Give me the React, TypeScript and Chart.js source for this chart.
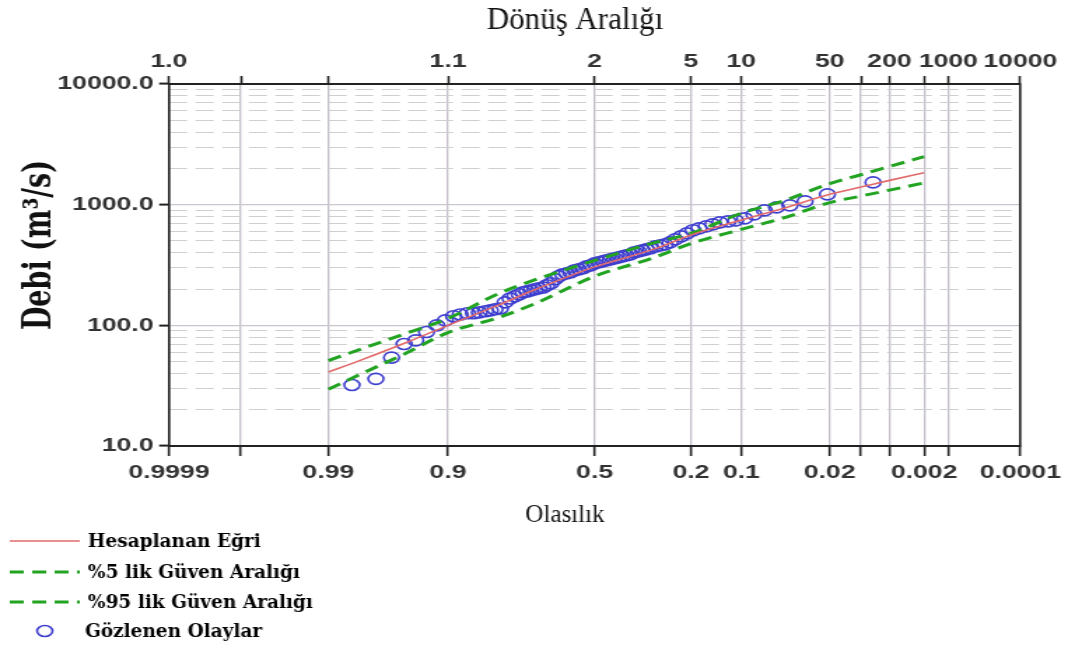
import React, { useEffect, useRef } from 'react';
import { Chart, registerables } from 'chart.js';

Chart.register(...registerables);

// ---- axis ticks ----
const probTicks = [0.9999, 0.999, 0.99, 0.9, 0.5, 0.2, 0.1, 0.02, 0.01, 0.005, 0.002, 0.001, 0.0001];
const probLabels = ['0.9999', '', '0.99', '0.9', '0.5', '0.2', '0.1', '0.02', '', '', '0.002', '', '0.0001'];
const returnLabels = ['1.0', '', '', '1.1', '2', '5', '10', '50', '', '200', '', '1000', '10000'];
const flowTicks = [10, 100, 1000, 10000];
const flowLabels = ['10.0', '100.0', '1000.0', '10000.0'];
const flowMinorTicks = [20, 30, 40, 50, 60, 70, 80, 90, 200, 300, 400, 500, 600, 700, 800, 900, 2000, 3000, 4000, 5000, 6000, 7000, 8000, 9000];

// ---- fitted curve and confidence limits ----
const curveProb = [0.99, 0.98, 0.95, 0.9, 0.8, 0.7, 0.5, 0.3, 0.2, 0.1, 0.05, 0.02, 0.01, 0.005, 0.002];
const fittedFlow = [41, 51, 72, 100, 147, 197, 305, 430, 560, 745, 930, 1220, 1400, 1590, 1840];
const upper5Flow = [51, 63, 86, 114, 183, 238, 345, 485, 578, 850, 1072, 1493, 1770, 2070, 2500];
const lower95Flow = [29.5, 39, 59, 87, 116, 151, 255, 366, 477, 624, 773, 1040, 1178, 1320, 1514];

// ---- observed events ----
const obsProb = [
  0.983, 0.972, 0.962, 0.952, 0.941, 0.929, 0.916, 0.904, 0.891, 0.880,
  0.867, 0.855, 0.843, 0.830, 0.819, 0.808, 0.795, 0.783, 0.770, 0.757,
  0.745, 0.734, 0.723, 0.711, 0.699, 0.687, 0.674, 0.662, 0.649, 0.636,
  0.623, 0.610, 0.596, 0.583, 0.569, 0.555, 0.541, 0.528, 0.514, 0.500,
  0.486, 0.472, 0.459, 0.445, 0.431, 0.417, 0.404, 0.391, 0.377, 0.364,
  0.351, 0.338, 0.326, 0.313, 0.298, 0.283, 0.269, 0.255, 0.241, 0.225,
  0.210, 0.195, 0.181, 0.165, 0.151, 0.137, 0.122, 0.109, 0.095, 0.082,
  0.069, 0.056, 0.044, 0.033, 0.021, 0.0075,
];
const obsFlow = [
  32, 36, 54, 70, 75, 88, 100, 110, 119, 123,
  126, 126, 128, 131, 133, 136, 138, 155, 167, 174,
  181, 188, 191, 195, 199, 203, 206, 215, 223, 241,
  255, 265, 270, 275, 286, 291, 297, 308, 314, 326,
  333, 339, 346, 352, 359, 366, 373, 380, 387, 403,
  410, 418, 426, 435, 451, 460, 469, 487, 516, 546,
  578, 613, 636, 661, 687, 713, 727, 741, 770, 831,
  897, 950, 987, 1065, 1217, 1530,
];

const legendLabels = ['Hesaplanan Eğri', '%5 lik Güven Aralığı', '%95 lik Güven Aralığı', 'Gözlenen Olaylar'];
const titleTop = 'Dönüş Aralığı';
const titleBottom = 'Olasılık';
const titleLeft = 'Debi (m³/s)';

// inverse standard normal CDF (Acklam)
function probit(p: number): number {
  const a = [-3.969683028665376e1, 2.209460984245205e2, -2.759285104469687e2, 1.38357751867269e2, -3.066479806614716e1, 2.506628277459239];
  const b = [-5.447609879822406e1, 1.615858368580409e2, -1.556989798598866e2, 6.680131188771972e1, -1.328068155288572e1];
  const c = [-7.784894002430293e-3, -3.223964580411365e-1, -2.400758277161838, -2.549732539343734, 4.374664141464968, 2.938163982698783];
  const d = [7.784695709041462e-3, 3.224671290700398e-1, 2.445134137142996, 3.754408661907416];
  const pl = 0.02425;
  if (p < pl) {
    const q = Math.sqrt(-2 * Math.log(p));
    return (((((c[0] * q + c[1]) * q + c[2]) * q + c[3]) * q + c[4]) * q + c[5]) / ((((d[0] * q + d[1]) * q + d[2]) * q + d[3]) * q + 1);
  }
  if (p <= 1 - pl) {
    const q = p - 0.5;
    const r = q * q;
    return ((((((a[0] * r + a[1]) * r + a[2]) * r + a[3]) * r + a[4]) * r + a[5]) * q) / (((((b[0] * r + b[1]) * r + b[2]) * r + b[3]) * r + b[4]) * r + 1);
  }
  const q = Math.sqrt(-2 * Math.log(1 - p));
  return -(((((c[0] * q + c[1]) * q + c[2]) * q + c[3]) * q + c[4]) * q + c[5]) / ((((d[0] * q + d[1]) * q + d[2]) * q + d[3]) * q + 1);
}
// exceedance probability -> normal-probability-paper coordinate
const xv = (p: number) => probit(1 - p);

const DISPLAY_W = 1068;
const CANVAS_W = 763; // drawn narrower, displayed stretched to 1068
const CANVAS_H = 645;
const SX = DISPLAY_W / CANVAS_W;

const RED = '#e26a6a';
const GREEN = '#22a322';
const BLUE = '#3f3fcf';
const VGRID = '#c4bcca';
const HGRID = '#cbc5cf';
const MINOR = '#cfcfcf';
const TICKFONT = { family: '"Liberation Sans", Arial, sans-serif', size: 19, weight: 'bold' as const };
const TICKCOLOR = '#333333';

// draw text at a display x position, with glyphs stretched horizontally by f on screen
function drawText(ctx: any, text: string, xDisplay: number, y: number, f: number) {
  ctx.save();
  ctx.scale(f / SX, 1);
  ctx.fillText(text, xDisplay / f, y);
  ctx.restore();
}

const textPlugin = {
  id: 'textLayer',
  afterDraw(chart: any) {
    const { ctx } = chart;
    const ds = chart.data.datasets;
    ctx.save();
    ctx.fillStyle = '#111';
    ctx.textAlign = 'center';
    ctx.textBaseline = 'alphabetic';
    ctx.font = '31px "Liberation Serif", serif';
    drawText(ctx, titleTop, 575, 29, 1);
    ctx.font = '25px "Liberation Serif", serif';
    drawText(ctx, titleBottom, 565, 522, 1);
    ctx.save();
    ctx.translate(35.5, 245);
    ctx.rotate(-Math.PI / 2);
    ctx.font = 'bold 27px "DejaVu Serif", serif';
    ctx.fillText(titleLeft, 0, 0);
    ctx.restore();

    // legend
    const rows = [541, 572, 602, 631];
    ctx.textAlign = 'left';
    ctx.textBaseline = 'middle';
    ctx.font = 'bold 18.5px "DejaVu Serif", serif';
    for (let i = 0; i < 4; i++) {
      const y = rows[i];
      const d = ds[i];
      ctx.save();
      if (i < 3) {
        ctx.strokeStyle = d.borderColor;
        ctx.lineWidth = d.borderWidth;
        ctx.setLineDash(d.borderDash || []);
        ctx.beginPath();
        ctx.moveTo(7, y);
        ctx.lineTo(57, y);
        ctx.stroke();
      } else {
        ctx.strokeStyle = d.pointBorderColor;
        ctx.lineWidth = d.pointBorderWidth;
        ctx.beginPath();
        ctx.arc(32, y, d.pointRadius, 0, Math.PI * 2);
        ctx.stroke();
      }
      ctx.restore();
      ctx.fillStyle = '#000';
      drawText(ctx, legendLabels[i], i === 3 ? 85 : 88, y + 1, 1);
    }
    ctx.restore();
  },
};

function buildConfig(): any {
  const curve = (vals: number[]) => curveProb.map((p, i) => ({ x: xv(p), y: vals[i] }));
  const xMin = xv(probTicks[0]);
  const xMax = xv(probTicks[probTicks.length - 1]);
  return {
    type: 'scatter',
    data: {
      datasets: [
        {
          label: legendLabels[0],
          data: curve(fittedFlow),
          showLine: true,
          borderColor: RED,
          borderWidth: 1.6,
          pointRadius: 0,
          cubicInterpolationMode: 'monotone',
          xAxisID: 'x',
          yAxisID: 'y',
        },
        {
          label: legendLabels[1],
          data: curve(upper5Flow),
          showLine: true,
          borderColor: GREEN,
          borderWidth: 3,
          borderDash: [10, 6],
          pointRadius: 0,
          cubicInterpolationMode: 'monotone',
          xAxisID: 'x',
          yAxisID: 'y',
        },
        {
          label: legendLabels[2],
          data: curve(lower95Flow),
          showLine: true,
          borderColor: GREEN,
          borderWidth: 3,
          borderDash: [10, 6],
          pointRadius: 0,
          cubicInterpolationMode: 'monotone',
          xAxisID: 'x',
          yAxisID: 'y',
        },
        {
          label: legendLabels[3],
          data: obsProb.map((p, i) => ({ x: xv(p), y: obsFlow[i] })),
          showLine: false,
          pointStyle: 'circle',
          pointRadius: 5.5,
          pointBorderWidth: 1.6,
          pointBorderColor: BLUE,
          pointBackgroundColor: 'rgba(0,0,0,0)',
          xAxisID: 'x',
          yAxisID: 'y',
        },
      ],
    },
    options: {
      responsive: false,
      animation: false,
      devicePixelRatio: 1,
      layout: { padding: { left: 0, right: 30, top: 0, bottom: 115 } },
      plugins: { legend: { display: false }, tooltip: { enabled: false } },
      events: [],
      scales: {
        x: {
          type: 'linear',
          position: 'bottom',
          min: xMin,
          max: xMax,
          afterBuildTicks: (s: any) => {
            s.ticks = probTicks.map((p) => ({ value: xv(p) }));
          },
          afterFit: (s: any) => {
            s.height = 84;
          },
          ticks: {
            autoSkip: false,
            maxRotation: 0,
            padding: 5,
            font: TICKFONT,
            color: TICKCOLOR,
            callback: (_v: any, i: number) => probLabels[i],
          },
          grid: { color: VGRID, lineWidth: 1.3, tickColor: '#222', tickWidth: 1.6, tickLength: 10 },
          border: { display: true, color: '#222', width: 2 },
        },
        x2: {
          type: 'linear',
          position: 'top',
          min: xMin,
          max: xMax,
          afterBuildTicks: (s: any) => {
            s.ticks = probTicks.map((p) => ({ value: xv(p) }));
          },
          afterFit: (s: any) => {
            s.height = 84;
          },
          ticks: {
            autoSkip: false,
            maxRotation: 0,
            padding: 3,
            font: TICKFONT,
            color: TICKCOLOR,
            callback: (_v: any, i: number) => returnLabels[i],
          },
          grid: { drawOnChartArea: false, color: VGRID, tickColor: '#222', tickWidth: 1.6, tickLength: 8 },
          border: { display: true, color: '#222', width: 2 },
        },
        y: {
          type: 'logarithmic',
          position: 'left',
          min: flowTicks[0],
          max: flowTicks[flowTicks.length - 1],
          afterBuildTicks: (s: any) => {
            s.ticks = flowTicks.map((v) => ({ value: v }));
          },
          afterFit: (s: any) => {
            s.width = 120.7;
          },
          ticks: {
            autoSkip: false,
            padding: 4,
            font: TICKFONT,
            color: TICKCOLOR,
            callback: (_v: any, i: number) => flowLabels[i],
          },
          grid: { color: HGRID, lineWidth: 1.2, tickColor: '#222', tickWidth: 2, tickLength: 7 },
          border: { display: true, color: '#222', width: 1.6 },
        },
        y2: {
          type: 'logarithmic',
          position: 'right',
          min: flowTicks[0],
          max: flowTicks[flowTicks.length - 1],
          afterBuildTicks: (s: any) => {
            s.ticks = flowMinorTicks.map((v) => ({ value: v }));
          },
          afterFit: (s: any) => {
            s.width = 0;
          },
          ticks: { display: false },
          grid: { color: MINOR, lineWidth: 1, drawTicks: false },
          border: { display: true, color: '#222', width: 1.6, dash: [13, 6] },
        },
      },
    },
    plugins: [textPlugin],
  };
}

export default function App() {
  const ref = useRef<HTMLCanvasElement | null>(null);
  useEffect(() => {
    const canvas = ref.current;
    if (!canvas) return;
    const chart = new Chart(canvas, buildConfig());
    return () => chart.destroy();
  }, []);
  return (
    <div style={{ position: 'fixed', left: 0, top: 0, width: DISPLAY_W, height: CANVAS_H, background: '#ffffff' }}>
      <canvas
        ref={ref}
        width={CANVAS_W}
        height={CANVAS_H}
        style={{ width: `${DISPLAY_W}px`, height: `${CANVAS_H}px`, display: 'block' }}
      />
    </div>
  );
}
